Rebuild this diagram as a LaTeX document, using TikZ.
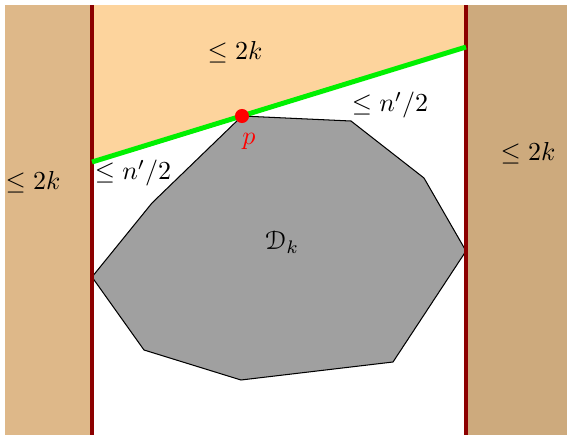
\documentclass[tikz,border=0pt]{standalone}
\usepackage{amsmath,amssymb}
\usepackage[mathcal]{eucal}
\begin{document}
\begin{tikzpicture}[x=0.385pt,y=-0.385pt,
  lbl/.style={inner sep=0pt,font=\normalsize},
  wall/.style={draw=red!55!black,line width=1.2pt}]
\definecolor{leftstrip}{RGB}{222,184,137}
\definecolor{rightstrip}{RGB}{205,170,125}
\definecolor{peach}{RGB}{253,212,157}
\definecolor{poly}{RGB}{160,160,160}
\definecolor{green2}{RGB}{0,240,0}
\useasboundingbox (0,0) rectangle (567,435);
\fill[white] (0,0) rectangle (567,435);
% strips
\fill[leftstrip] (5,5) rectangle (92,435);
\fill[rightstrip] (466,5) rectangle (567,435);
% peach region
\fill[peach] (92,5) -- (466,5) -- (466,47) -- (92,162) -- cycle;
% polygon
\filldraw[fill=poly,draw=black,line width=0.4pt]
  (242,116) -- (351,121) -- (424,178) -- (466,251) -- (393,362) -- (241,380)
  -- (144,350) -- (92,277) -- (152,203) -- cycle;
% walls
\draw[wall] (92,5) -- (92,435);
\draw[wall] (466,5) -- (466,435);
% green line
\coordinate (gl) at (92,162);
\coordinate (gr) at (466,47);
\draw[green2,line width=1.9pt] (gl) -- (gr);
% point p
\fill[red] (242,116) circle (2.7pt);
\node[lbl,text=red] (p) at (249,141) {$p$};
% labels
\node[lbl] (top) at (235,52) {$\leq 2k$};
\node[lbl] (left) at (33,182) {$\leq 2k$};
\node[lbl] (right) at (528,153) {$\leq 2k$};
\node[lbl] (nl) at (133,173) {$\leq n'/2$};
\node[lbl] (nr) at (390,105) {$\leq n'/2$};
\node[lbl] (D) at (282,242) {$\mathcal{D}_k$};
\end{tikzpicture}
\end{document}
